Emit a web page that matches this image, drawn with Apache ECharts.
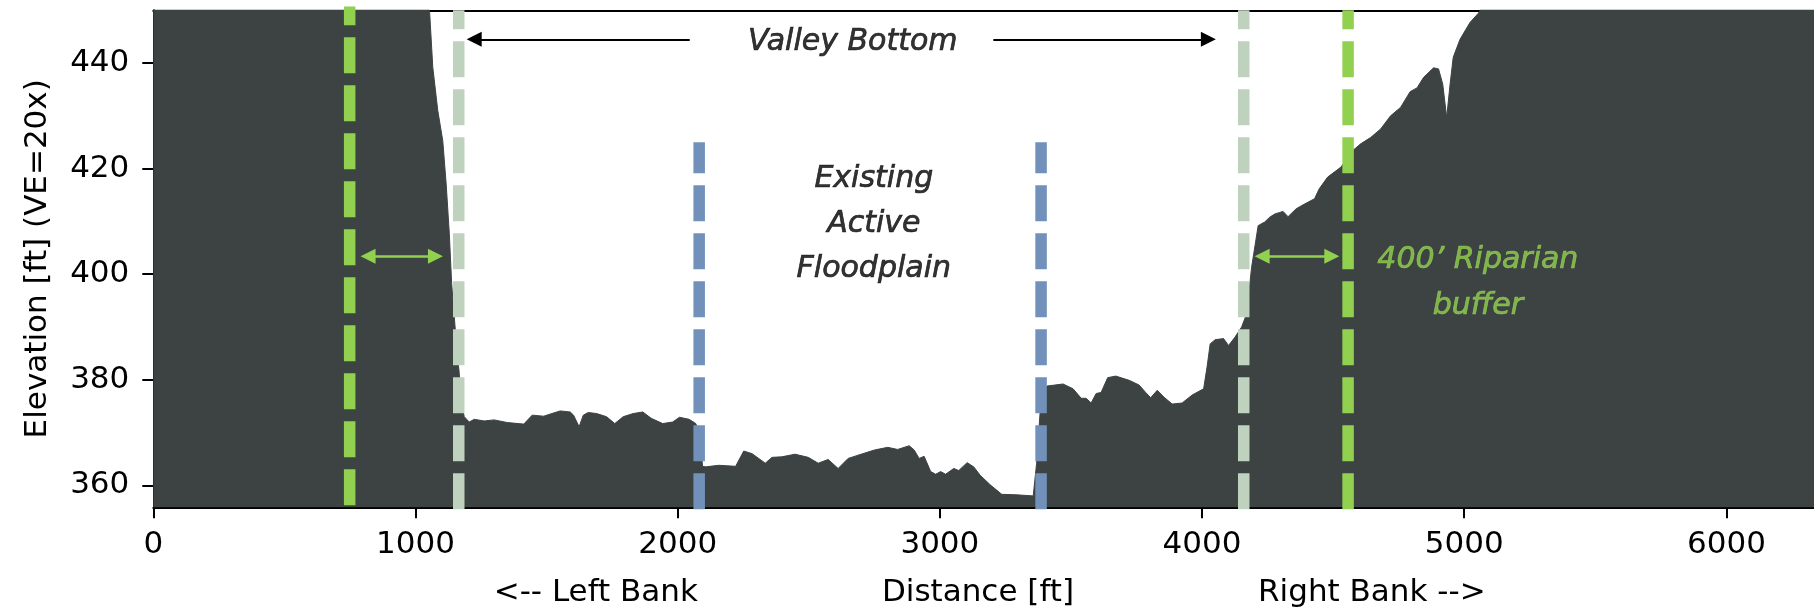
<!DOCTYPE html>
<html>
<head>
<meta charset="utf-8">
<script src="https://cdn.jsdelivr.net/npm/echarts@6/dist/echarts.min.js"></script>
<style>
  html, body { margin: 0; padding: 0; background: #ffffff; }
  #chart { width: 1814px; height: 616px; }
</style>
</head>
<body>
<div id="chart"></div>
<script>
// Cross-section station (ft) and ground elevation (ft)
const distanceFt = [
  0, 600, 1000, 1040, 1054, 1066, 1085, 1104, 1117, 1129, 1138, 1148, 1158, 1167, 1173, 1186,
  1205, 1224, 1262, 1300, 1350, 1413, 1445, 1489, 1520, 1552, 1590, 1603, 1624, 1640, 1659, 1691,
  1729, 1760, 1792, 1830, 1867, 1899, 1943, 1981, 2007, 2044, 2069, 2082, 2095, 2107, 2157, 2221,
  2252, 2284, 2309, 2334, 2360, 2397, 2448, 2498, 2536, 2574, 2612, 2650, 2700, 2751, 2801, 2839,
  2883, 2902, 2921, 2940, 2965, 2984, 3003, 3022, 3053, 3072, 3104, 3129, 3154, 3192, 3236, 3293,
  3356, 3369, 3382, 3407, 3438, 3470, 3508, 3539, 3558, 3577, 3596, 3615, 3640, 3671, 3722, 3760,
  3785, 3804, 3829, 3855, 3886, 3924, 3962, 4006, 4019, 4031, 4050, 4082, 4101, 4126, 4151, 4170,
  4189, 4214, 4239, 4258, 4277, 4296, 4309, 4328, 4359, 4391, 4429, 4447, 4479, 4530, 4574, 4605,
  4643, 4681, 4719, 4757, 4794, 4820, 4845, 4883, 4902, 4918, 4933, 4946, 4958, 4984, 5022, 5053,
  5090, 5300, 5800, 6340
];
const elevationFt = [
  470, 466, 458, 452, 449.6, 439.2, 431.0, 425.3, 417.1, 407.7, 398.2, 391.9, 385.6, 381.2, 376.1, 373.0,
  372.0, 372.5, 372.2, 372.4, 371.9, 371.6, 373.3, 373.1, 373.6, 374.1, 373.9, 373.3, 371.1, 373.3, 373.8, 373.6,
  373.0, 371.7, 373.0, 373.6, 373.9, 372.7, 371.7, 372.0, 372.9, 372.5, 371.7, 370.0, 363.6, 363.5, 363.8, 363.6,
  366.5, 366.0, 365.1, 364.2, 365.3, 365.4, 365.9, 365.3, 364.2, 364.9, 363.2, 365.1, 365.9, 366.7, 367.2, 366.8,
  367.5, 366.7, 365.1, 365.5, 362.6, 362.1, 362.6, 362.1, 363.2, 362.8, 364.3, 363.5, 361.9, 360.1, 358.3, 358.2,
  358.0, 364.2, 373.6, 378.8, 379.0, 379.2, 378.3, 376.5, 376.5, 375.6, 377.4, 377.6, 380.4, 380.7, 379.9, 379.0,
  377.6, 376.6, 378.0, 376.7, 375.4, 375.6, 377.1, 378.3, 382.4, 386.8, 387.6, 387.8, 386.5, 388.1, 390.0, 392.5,
  401.3, 409.2, 409.9, 410.8, 411.4, 411.7, 411.9, 410.9, 412.4, 413.3, 414.3, 416.2, 418.4, 420.3, 423.4, 424.7,
  425.9, 427.5, 430.0, 431.6, 434.6, 435.3, 437.3, 439.1, 438.9, 436.0, 429.7, 436.0, 441.1, 444.5, 447.7, 449.4,
  452, 458, 464, 468
];

// Axis ranges and ticks
const xRange = [0, 6334];
const yRange = [355.84, 450];
const xTicks = [0, 1000, 2000, 3000, 4000, 5000, 6000];
const yTicks = [360, 380, 400, 420, 440];

// Boundary stations (ft)
const riparianLimitFt = [749, 4557];
const valleyBottomLimitFt = [1165, 4159];
const floodplainLimitFt = [2082, 3386];
const floodplainLineTop = 425;
const riparianLineTop = [450.7, 450];

// Annotation arrows: [fromStation, toStation, elevation]
const valleyArrows = [[2046, 1224, 444.5], [3204, 4024, 444.5]];
const bufferArrows = [[819, 1076, 403.4], [4229, 4495, 403.4]];

// Annotation text: [station, elevation, text]
const valleyText = [2668, 444.0, 'Valley Bottom'];
const floodplainText = [2748, 409.4, 'Existing\nActive\nFloodplain'];
const bufferText = [5052, 398.3, '400\u2019 Riparian\nbuffer'];

const FONT = 'DejaVu Sans';
const GROUND = '#3d4343';
const GREEN = '#92d050';
const PALE = '#bfd2bd';
const BLUE = '#7191bb';
const DASH = [36, 12];
const yStart = 355.46;

const chart = echarts.init(document.getElementById('chart'), null, { renderer: 'canvas' });

function boundary(x, top, color, offset) {
  return {
    type: 'line', z: 5, silent: true, clip: false, showSymbol: false, symbol: 'none',
    data: [[x, yStart], [x, top]],
    lineStyle: { color: color, width: 11.5, type: DASH, dashOffset: offset || 0, cap: 'butt' },
    emphasis: { disabled: true }, animation: false
  };
}

function arrows(list, color, width, twoHeaded) {
  return {
    type: 'lines', coordinateSystem: 'cartesian2d', z: 8, silent: true,
    symbol: twoHeaded ? ['triangle', 'triangle'] : ['none', 'triangle'],
    symbolSize: [15, 15],
    lineStyle: { color: color, width: width, opacity: 1, curveness: 0 },
    data: list.map(a => ({ coords: [[a[0], a[2]], [a[1], a[2]]] })),
    animation: false
  };
}

function textMark(t, color, lh) {
  return {
    type: 'scatter', z: 9, silent: true, clip: false, symbolSize: 0,
    itemStyle: { color: 'rgba(0,0,0,0)' },
    data: [{ value: [t[0], t[1]] }],
    label: {
      show: true, position: 'inside', formatter: t[2],
      fontFamily: FONT, fontStyle: 'italic', fontSize: 30, color: color,
      textBorderWidth: 0.7, textBorderColor: color, textShadowBlur: 0,
      lineHeight: lh, align: 'center', verticalAlign: 'middle'
    },
    animation: false
  };
}

const option = {
  animation: false,
  backgroundColor: '#ffffff',
  textStyle: { fontFamily: FONT },
  grid: { left: 153.3, right: -12.7, top: 10.3, bottom: 108.7, containLabel: false },
  xAxis: [{
    type: 'value', min: xRange[0], max: xRange[1],
    axisLine: { show: true, lineStyle: { color: '#000', width: 2 } },
    axisTick: { show: true, length: 11, lineStyle: { color: '#000', width: 2 }, customValues: xTicks },
    axisLabel: {
      color: '#000', fontSize: 31, fontFamily: FONT, margin: 22, customValues: xTicks,
      formatter: v => String(v)
    },
    splitLine: { show: false },
    name: '{a|<-- Left Bank}{g|}{b|Distance [ft]}{g|}{c|Right Bank -->}',
    nameLocation: 'middle', nameGap: 70,
    nameTextStyle: {
      color: '#000', fontSize: 31, fontFamily: FONT, padding: [0, 0, 0, 12],
      rich: {
        a: { fontSize: 31, fontFamily: FONT, color: '#000' },
        b: { fontSize: 31, fontFamily: FONT, color: '#000' },
        c: { fontSize: 31, fontFamily: FONT, color: '#000' },
        g: { width: 184 }
      }
    }
  }, {
    type: 'value', position: 'top', min: xRange[0], max: xRange[1],
    axisLine: { show: true, onZero: false, lineStyle: { color: '#000', width: 2 } },
    axisTick: { show: false }, axisLabel: { show: false }, splitLine: { show: false }
  }],
  yAxis: {
    type: 'value', min: yRange[0], max: yRange[1],
    axisLine: { show: true, lineStyle: { color: '#000', width: 2 } },
    axisTick: { show: true, length: 11, lineStyle: { color: '#000', width: 2 }, customValues: yTicks },
    axisLabel: {
      color: '#000', fontSize: 31, fontFamily: FONT, margin: 24, customValues: yTicks,
      formatter: v => String(v)
    },
    splitLine: { show: false },
    name: 'Elevation [ft] (VE=20x)', nameLocation: 'middle', nameGap: 100, nameRotate: 90,
    nameTextStyle: { color: '#000', fontSize: 31, fontFamily: FONT }
  },
  series: [
    {
      type: 'line', z: 2, silent: true, clip: true, showSymbol: false, symbol: 'none',
      data: distanceFt.map((d, i) => [d, elevationFt[i]]),
      lineStyle: { color: GROUND, width: 1 },
      areaStyle: { color: GROUND, opacity: 1, origin: 'start' },
      animation: false
    },
    boundary(riparianLimitFt[0], riparianLineTop[0], GREEN, 44),
    boundary(valleyBottomLimitFt[0], yRange[1], PALE),
    boundary(floodplainLimitFt[0], floodplainLineTop, BLUE),
    boundary(floodplainLimitFt[1], floodplainLineTop, BLUE),
    boundary(valleyBottomLimitFt[1], yRange[1], PALE),
    boundary(riparianLimitFt[1], riparianLineTop[1], GREEN),
    arrows(valleyArrows, '#000', 2, false),
    arrows(bufferArrows, GREEN, 2.5, true),
    textMark(valleyText, '#000', 36),
    textMark(floodplainText, '#000', 45),
    textMark(bufferText, GREEN, 46)
  ]
};

chart.setOption(option);
</script>
</body>
</html>
